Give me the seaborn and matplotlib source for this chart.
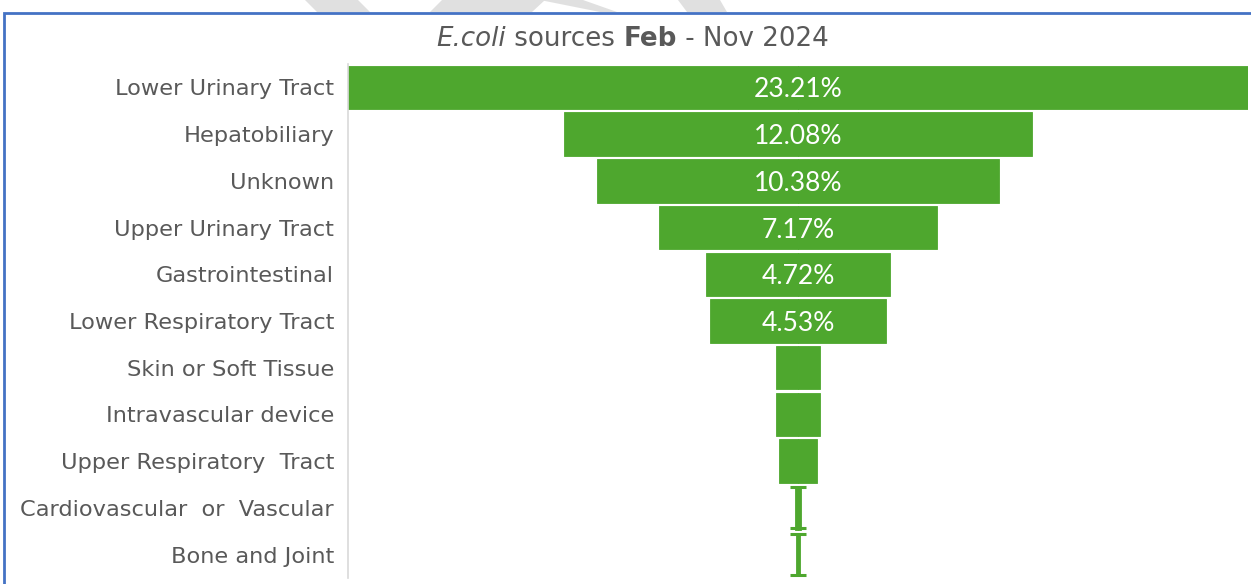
import matplotlib
matplotlib.use("Agg")
import matplotlib.pyplot as plt
import seaborn as sns
import numpy as np
import pandas as pd
from matplotlib.patches import Polygon, Rectangle

sources = ["Lower Urinary Tract", "Hepatobiliary", "Unknown", "Upper Urinary Tract",
           "Gastrointestinal", "Lower Respiratory Tract", "Skin or Soft Tissue",
           "Intravascular device", "Upper Respiratory  Tract",
           "Cardiovascular  or  Vascular", "Bone and Joint"]
percent = [23.21, 12.08, 10.38, 7.17, 4.72, 4.53, 1.13, 1.16, 1.00, 0.13, 0.12]
show_label = [True, True, True, True, True, True, False, False, False, False, False]

GREEN = "#4EA72E"
GREY_TXT = "#595959"

sns.set_theme(style="white")
plt.rcParams["font.family"] = ["DejaVu Sans"]

W, H = 1251, 584
fig = plt.figure(figsize=(W / 100, H / 100), dpi=100)

# outer frame (blue) and watermark fragments
fig.patches.append(Rectangle((3.5 / W, -0.1), 1.2, 1 - 12.7 / H + 0.1,
                             transform=fig.transFigure, fill=False,
                             edgecolor="#4472C4", linewidth=2.0, zorder=5))
wm = [[(305, 0), (358, 0), (370, 12), (317, 12)],
      [(442, 0), (545, 0), (532, 12), (430, 12)],
      [(540, 0), (583, 0), (617, 12), (600, 12)],
      [(678, 0), (720, 0), (727, 12), (687, 12)]]
for poly in wm:
    pts = [(x / W, 1 - y / H) for x, y in poly]
    fig.patches.append(Polygon(pts, closed=True, transform=fig.transFigure,
                               facecolor="#E0E0E0", edgecolor="none", zorder=1))

top_px, bot_px = 64.0, 578.0
ax = fig.add_axes([348 / W, 1 - bot_px / H, 900 / W, (bot_px - top_px) / H])

df = pd.DataFrame({"source": sources, "half": np.array(percent) / 2})
df_neg = df.assign(half=-df["half"])
for d in (df, df_neg):
    sns.barplot(data=d, x="half", y="source", orient="h", color=GREEN,
                saturation=1, width=0.93, edgecolor=GREEN, linewidth=0.6, ax=ax)

# caps for the hair-thin bars (drawn as 'I' shapes in the original)
for i, v in enumerate(percent):
    if v < 0.5:
        for dy in (-0.44, 0.44):
            ax.hlines(i + dy, -0.21, 0.21, color=GREEN, linewidth=2.2)

for i, (v, s) in enumerate(zip(percent, show_label)):
    if s:
        ax.text(0, i + 0.215, f"{v:.2f}%", ha="center", va="baseline",
                color="white", fontsize=19, family=["Lato", "DejaVu Sans"])

half = percent[0] / 2
ax.set_xlim(-half, half)
ax.set_ylim(len(sources) - 0.5, -0.5)
ax.set_xlabel("")
ax.set_ylabel("")
ax.set_xticks([])
ax.tick_params(axis="y", length=0, pad=10, labelsize=16.2, labelcolor=GREY_TXT)
for sp in ("top", "right", "bottom"):
    ax.spines[sp].set_visible(False)
ax.spines["left"].set_color("#D9D9D9")
ax.spines["left"].set_linewidth(1.2)
ax.patch.set_alpha(0)

# title with mixed styles
renderer = fig.canvas.get_renderer()
parts = [("E.coli", "italic", "normal"), (" sources ", "normal", "normal"),
         ("Feb", "normal", "bold"), (" - Nov 2024", "normal", "normal")]
texts = []
for s, st, wt in parts:
    t = fig.text(0, 1 - 46 / H, s, fontsize=18.8, style=st, weight=wt,
                 color=GREY_TXT, ha="left", va="baseline")
    texts.append(t)
widths = [t.get_window_extent(renderer).width for t in texts]
total = sum(widths)
x0 = 632.5 - total / 2
for t, w in zip(texts, widths):
    t.set_x(x0 / W)
    x0 += w

fig.savefig("out.png", dpi=100)
